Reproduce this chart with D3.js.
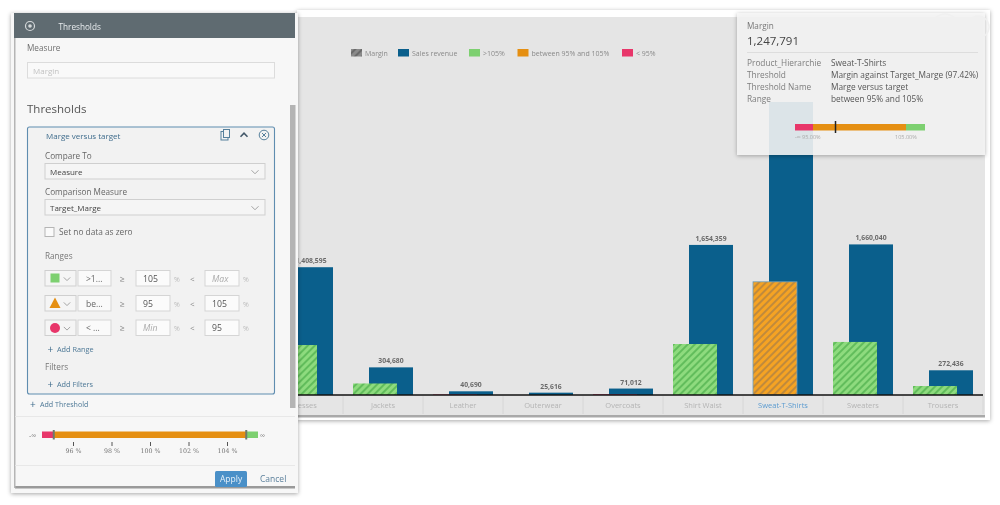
<!DOCTYPE html>
<meta charset="utf-8">
<style>
  html, body { margin: 0; background: #fff; }
  svg { display: block; filter: blur(0.5px); }
  text { font-family: "Open Sans", sans-serif; }
</style>
<body>
<svg id="chart" width="1000" height="505"></svg>
</body>
<script src="https://d3js.org/d3.v7.min.js"></script>
<script>
// chart data
var categories = ["Dresses", "Jackets", "Leather", "Outerwear", "Overcoats", "Shirt Waist", "Sweat-T-Shirts", "Sweaters", "Trousers"];
var salesValues = [1408595, 304680, 40690, 25616, 71012, 1654359, 3230000, 1660040, 272436];
var salesLabels = ["1,408,595", "304,680", "40,690", "25,616", "71,012", "1,654,359", "", "1,660,040", "272,436"];
var marginValues = [551000, 127000, 6000, 0, 8000, 562000, 1247791, 585000, 99000];
var marginBands = ["high", "high", "low", "high", "low", "high", "mid", "high", "high"];
var legendNames = ["Margin", "Sales revenue", ">105%", "between 95% and 105%", "< 95%"];
var tooltipKeys = ["Product_Hierarchie", "Threshold", "Threshold Name", "Range"];
var tooltipValues = ["Sweat-T-Shirts", "Margin against Target_Marge (97.42%)", "Marge versus target", "between 95% and 105%"];
var rangeTicks = [96, 98, 100, 102, 104];
var rangeLimits = [95, 105];
var actualPercent = 97.42;

var blue = "#0a5f8c", green = "#7dd070", orange = "#e58f12", red = "#e8366a";
var svg = d3.select("#chart");
var defs = svg.append("defs");

// diagonal hatching for the margin bars
function hatch(id, bg, fg) {
  var p = defs.append("pattern").attr("id", id).attr("width", 5).attr("height", 5)
    .attr("patternUnits", "userSpaceOnUse").attr("patternTransform", "rotate(45)");
  p.append("rect").attr("width", 5).attr("height", 5).attr("fill", bg);
  p.append("rect").attr("width", 2).attr("height", 5).attr("fill", fg);
}
hatch("hatch-high", "#8edb7e", "#62bd5c");
hatch("hatch-mid", "#f5a323", "#c08a3c");
hatch("hatch-low", red, red);

var softShadow = defs.append("filter").attr("id", "shadow")
  .attr("x", "-5%").attr("y", "-5%").attr("width", "110%").attr("height", "110%");
softShadow.append("feDropShadow").attr("dx", 0).attr("dy", 1).attr("stdDeviation", 2)
  .attr("flood-color", "#000").attr("flood-opacity", 0.35);

function label(g, x, y, t, size, color, extra) {
  var s = g.append("text").attr("x", x).attr("y", y).text(t)
    .attr("font-size", size).attr("fill", color);
  if (extra) extra(s);
  return s;
}
function box(g, x, y, w, h, fill, stroke, r) {
  return g.append("rect").attr("x", x).attr("y", y).attr("width", w).attr("height", h)
    .attr("fill", fill).attr("stroke", stroke || "none").attr("rx", r || 0);
}
function chevron(g, cx, cy, s, color, up) {
  var d = up ? -1 : 1;
  g.append("path").attr("d", "M" + (cx - s) + "," + (cy - d * s / 2) + "L" + cx + "," + (cy + d * s / 2) + "L" + (cx + s) + "," + (cy - d * s / 2))
    .attr("fill", "none").attr("stroke", color).attr("stroke-width", up ? 1.6 : 0.9);
}

// ---- main chart card
var card = svg.append("g");
box(card, 297, 10, 693, 410, "#fff").attr("filter", "url(#shadow)");
box(card, 297, 17, 688, 398, "#e5e5e5");
box(card, 297, 415, 688, 2.5, "#a9a9a9");

var x = d3.scaleBand().domain(categories).range([263, 983]);
var y = d3.scaleLinear().domain([0, 3230000]).range([395, 102]);
var bw = x.bandwidth();

// bars, sales behind and margin in front
var groups = card.selectAll("g.cat").data(categories).enter().append("g")
  .attr("class", "cat").attr("transform", function(d) { return "translate(" + x(d) + ",0)"; });

groups.append("rect").attr("x", bw * 0.325).attr("width", bw * 0.55)
  .attr("y", function(d, i) { return y(salesValues[i]); })
  .attr("height", function(d, i) { return y(0) - y(salesValues[i]); })
  .attr("fill", blue);

groups.append("rect").attr("x", bw * 0.125).attr("width", bw * 0.55)
  .attr("y", function(d, i) { return y(marginValues[i]); })
  .attr("height", function(d, i) { return y(0) - y(marginValues[i]); })
  .attr("fill", function(d, i) { return "url(#hatch-" + marginBands[i] + ")"; })
  .attr("stroke", function(d) { return d === "Sweat-T-Shirts" ? "#6d9fbe" : "none"; })
  .attr("stroke-width", 0.8);

groups.append("text").attr("x", bw * 0.6).attr("text-anchor", "middle")
  .attr("y", function(d, i) { return y(salesValues[i]) - 4; })
  .attr("font-size", 6.8).attr("font-weight", 700).attr("fill", "#6a6a6a")
  .text(function(d, i) { return salesLabels[i]; });

// category axis
var xAxis = card.append("g").attr("transform", "translate(0,395)").call(d3.axisBottom(x).tickSize(0).tickPadding(8));
xAxis.select(".domain").remove();
xAxis.selectAll("text").attr("font-size", 7.5).attr("fill", function(d) { return d === "Sweat-T-Shirts" ? "#5b9bd0" : "#b4b4b4"; })
  .style("font-family", "\"Open Sans\", sans-serif");
card.selectAll("line.sep").data(categories).enter().append("line").attr("class", "sep")
  .attr("x1", function(d) { return x(d) + bw; }).attr("x2", function(d) { return x(d) + bw; })
  .attr("y1", 396).attr("y2", 414).attr("stroke", "#d6d6d6");
card.append("line").attr("x1", 297).attr("x2", 983).attr("y1", 395).attr("y2", 395)
  .attr("stroke", "#111").attr("stroke-width", 1.4);

// legend
var legendX = [351, 398, 469, 517.5, 622];
var legendFill = ["url(#legend-margin)", blue, green, orange, red];
hatch("legend-margin", "#8a8a8a", "#6a6a6a");
legendNames.forEach(function(n, i) {
  box(card, legendX[i], 49, 11, 7.5, legendFill[i]);
  label(card, legendX[i] + 14, 55.5, n, 7, "#8a8a8a");
});

// ---- tooltip over the chart
var tip = svg.append("g");
box(tip, 737, 13, 248, 142, "#f6f6f6").attr("fill-opacity", 0.87).attr("filter", "url(#shadow)");
tip.append("circle").attr("cx", 945).attr("cy", 27).attr("r", 13).attr("fill", "none").attr("stroke", "#f0f0f0").attr("stroke-width", 1.5);
tip.append("circle").attr("cx", 978).attr("cy", 27).attr("r", 11).attr("fill", "none").attr("stroke", "#f0f0f0").attr("stroke-width", 1.5);
label(tip, 747, 29, "Margin", 8.2, "#777");
label(tip, 747, 45, "1,247,791", 11.5, "#444");
tip.append("line").attr("x1", 747).attr("x2", 978).attr("y1", 52.5).attr("y2", 52.5).attr("stroke", "#ddd");
tooltipKeys.forEach(function(k, i) {
  label(tip, 747, 66 + i * 12, k, 8.3, "#7d7d7d");
  label(tip, 831, 66 + i * 12, tooltipValues[i], 8.3, "#555");
});

// small bullet in the tooltip
var tipScale = d3.scaleLinear().domain(rangeLimits).range([813, 906]);
box(tip, 795, 124, tipScale(95) - 795, 6.5, red);
box(tip, tipScale(95), 124, tipScale(105) - tipScale(95), 6.5, orange);
box(tip, tipScale(105), 124, 925 - tipScale(105), 6.5, green);
tip.append("line").attr("x1", tipScale(actualPercent)).attr("x2", tipScale(actualPercent))
  .attr("y1", 121).attr("y2", 133).attr("stroke", "#222").attr("stroke-width", 1.5);
label(tip, 795, 139, "-\u221e 95.00%", 5.5, "#aaa");
label(tip, 895, 139, "105.00%", 5.5, "#aaa");

// ---- thresholds panel
var panel = svg.append("g");
box(panel, 11, 13, 287, 480, "#f7f7f7").attr("filter", "url(#shadow)");
box(panel, 14, 13, 281, 25, "#5f6b71");
box(panel, 15, 486, 280, 2.5, "#9a9a9a");
box(panel, 14, 38, 1.5, 450, "#b5b5b5");
box(panel, 290, 105, 5.5, 303, "#b4b4b4");

panel.append("circle").attr("cx", 30).attr("cy", 26).attr("r", 4.5).attr("fill", "none").attr("stroke", "#d5d9db").attr("stroke-width", 1.2);
panel.append("circle").attr("cx", 30).attr("cy", 26).attr("r", 1.8).attr("fill", "#d5d9db");
label(panel, 58.5, 30, "Thresholds", 8.2, "#e8ecee");

label(panel, 27, 51, "Measure", 8.2, "#707070");
box(panel, 27.5, 62.5, 247, 15.5, "#f9f9f9", "#dcdcdc");
label(panel, 33, 74, "Margin", 8, "#c2c2c2");
label(panel, 27, 113, "Thresholds", 11.5, "#555");

box(panel, 27.5, 127, 247, 267, "#f2f2f2", "#5f8db0", 2).attr("stroke-width", 1.1);
label(panel, 46, 139, "Marge versus target", 8, "#3f6c8c");
box(panel, 221, 131.5, 7, 8.5, "none", "#56809c");
box(panel, 223.5, 129.5, 6, 8, "#f2f2f2", "#56809c");
chevron(panel, 244, 135, 3.5, "#44596a", true);
panel.append("circle").attr("cx", 264).attr("cy", 135).attr("r", 4.8).attr("fill", "none").attr("stroke", "#56809c");
panel.append("path").attr("d", "M262,133L266,137M266,133L262,137").attr("stroke", "#56809c");

[["Compare To", 159, "Measure", 163.5], ["Comparison Measure", 195, "Target_Marge", 199.5]].forEach(function(r) {
  label(panel, 45, r[1], r[0], 8.2, "#666");
  box(panel, 45, r[3], 220, 15.5, "#f5f5f5", "#cfcfcf");
  label(panel, 50, r[3] + 11, r[2], 8, "#444");
  chevron(panel, 255, r[3] + 8.5, 3.5, "#9a9a9a");
});
box(panel, 45, 227.5, 9, 9, "#fafafa", "#b5b5b5");
label(panel, 59, 235, "Set no data as zero", 8.3, "#666");
label(panel, 45, 259, "Ranges", 8.2, "#777");

// range rows
var rowY = [270.5, 295.5, 320];
var rowNames = [">1...", "be...", "< ..."];
var rowFrom = ["105", "95", "Min"];
var rowTo = ["Max", "105", "95"];
var rowColor = [green, orange, red];
rowY.forEach(function(ry, i) {
  box(panel, 45, ry, 31, 15.5, "#f5f5f5", "#cfcfcf");
  if (i === 0) box(panel, 50.5, ry + 3, 9, 9, rowColor[i]);
  if (i === 1) panel.append("path").attr("d", "M49.5," + (ry + 12.5) + "L55," + (ry + 2) + "L60.5," + (ry + 12.5) + "Z").attr("fill", rowColor[i]);
  if (i === 2) panel.append("circle").attr("cx", 55).attr("cy", ry + 8).attr("r", 5).attr("fill", rowColor[i]);
  chevron(panel, 67, ry + 8.5, 3.2, "#9a9a9a");
  box(panel, 78, ry, 33, 15.5, "#fafafa", "#d5d5d5");
  label(panel, 86, ry + 11, rowNames[i], 8.5, "#666");
  label(panel, 120, ry + 11, "\u2265", 8.5, "#888");
  box(panel, 136, ry, 34, 15.5, "#fbfbfb", "#d5d5d5");
  label(panel, 143, ry + 11, rowFrom[i], 8.7, rowFrom[i] === "Min" ? "#aaa" : "#555", function(s) { if (rowFrom[i] === "Min") s.attr("font-style", "italic"); });
  label(panel, 174, ry + 11, "%", 7, "#bbb");
  label(panel, 190, ry + 11, "<", 8, "#888");
  box(panel, 205, ry, 34, 15.5, "#fbfbfb", "#d5d5d5");
  label(panel, 212, ry + 11, rowTo[i], 8.7, rowTo[i] === "Max" ? "#aaa" : "#555", function(s) { if (rowTo[i] === "Max") s.attr("font-style", "italic"); });
  label(panel, 243, ry + 11, "%", 7, "#bbb");
});

label(panel, 47.5, 353, "+", 10, "#3f6c8c");
label(panel, 57, 352, "Add Range", 7.3, "#4d7896");
label(panel, 45, 370, "Filters", 8.2, "#777");
label(panel, 47.5, 388, "+", 10, "#3f6c8c");
label(panel, 57, 387, "Add Filters", 7.3, "#4d7896");
label(panel, 30, 408, "+", 10, "#3f6c8c");
label(panel, 40, 407, "Add Threshold", 7.1, "#4d7896");
panel.append("line").attr("x1", 15).attr("x2", 295).attr("y1", 416.5).attr("y2", 416.5).attr("stroke", "#e8e8e8");

// range bar with its own axis
var rangeScale = d3.scaleLinear().domain([96, 104]).range([73, 227]);
box(panel, 42, 431.5, rangeScale(95) - 42, 6.5, red);
box(panel, rangeScale(95), 431.5, rangeScale(105) - rangeScale(95), 6.5, orange);
box(panel, rangeScale(105), 431.5, 258 - rangeScale(105), 6.5, green);
rangeLimits.forEach(function(v) {
  box(panel, rangeScale(v) - 1, 430, 2, 9.5, "#6e7b6e");
});
label(panel, 29, 438, "-\u221e", 7, "#777");
label(panel, 260, 438, "\u221e", 7, "#777");
var rangeAxis = panel.append("g").attr("transform", "translate(0,442)")
  .call(d3.axisBottom(rangeScale).tickValues(rangeTicks).tickSize(4).tickPadding(3).tickFormat(function(d) { return d + " %"; }));
rangeAxis.select(".domain").remove();
rangeAxis.selectAll("line").attr("stroke", "#555");
rangeAxis.selectAll("text").attr("fill", "#777").style("font-family", "\"DejaVu Serif\", serif").attr("font-size", 6.3);

panel.append("line").attr("x1", 15).attr("x2", 295).attr("y1", 465.5).attr("y2", 465.5).attr("stroke", "#e8e8e8");
box(panel, 215, 471, 32, 16, "#4a90c8", null, 1.5);
label(panel, 220, 482, "Apply", 8.5, "#e6f0f8");
label(panel, 260, 482, "Cancel", 8.5, "#5a7f9b");
</script>
